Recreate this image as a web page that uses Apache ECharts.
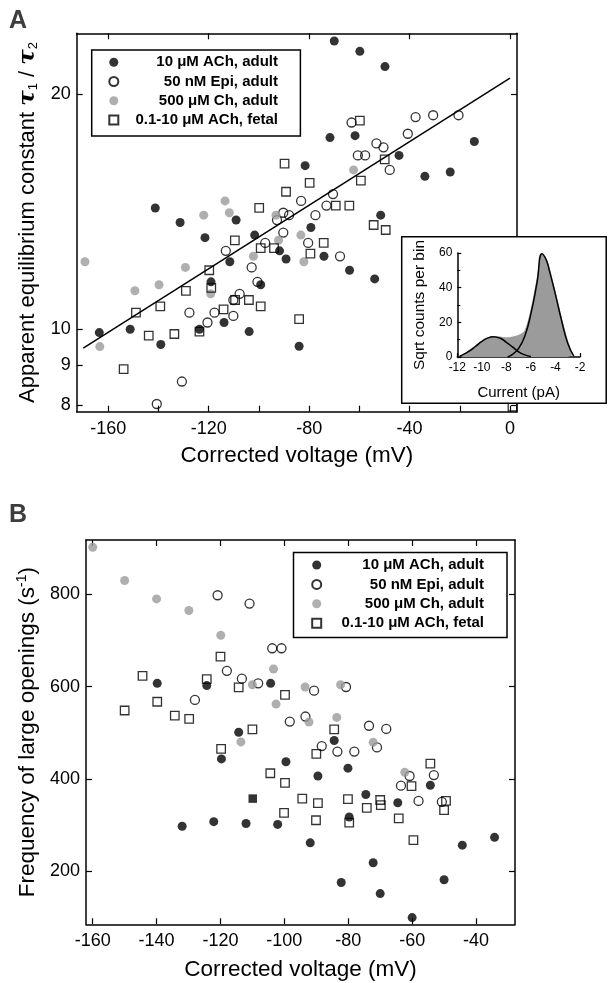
<!DOCTYPE html>
<html>
<head>
<meta charset="utf-8">
<script src="https://cdn.jsdelivr.net/npm/echarts@6/dist/echarts.min.js"></script>
<style>
  html, body { margin: 0; padding: 0; background: #fff; }
  #c { width: 609px; height: 983px; }
</style>
</head>
<body>
<div id="c"></div>
<script>
// ---- panel A : equilibrium constant vs corrected voltage (mV) ----
const achAdultA = [
  [-70.0, 23.4], [-59.8, 22.7], [-49.8, 21.7], [-71.7, 17.6], [-61.7, 17.7], [-14.2, 17.4],
  [-44.2, 16.7], [-33.9, 15.7], [-23.8, 15.9], [-81.6, 16.2], [-141.3, 14.3], [-131.4, 13.7],
  [-121.5, 13.1], [-109.1, 13.8], [-101.7, 13.2], [-79.3, 13.5], [-51.5, 14.0], [-111.6, 12.2],
  [-91.8, 12.6], [-89.2, 12.3], [-74.1, 12.4], [-63.9, 11.9], [-53.9, 11.6], [-119.1, 11.5],
  [-99.3, 11.4], [-163.6, 9.9], [-151.3, 10.0], [-139.1, 9.56], [-123.7, 10.0], [-113.9, 10.2],
  [-103.9, 9.93], [-84.0, 9.51]
];
const epiAdultA = [
  [-63.1, 18.4], [-37.6, 18.7], [-30.6, 18.8], [-20.5, 18.8], [-40.7, 17.8], [-53.2, 17.3],
  [-50.4, 17.1], [-60.6, 16.7], [-57.7, 16.7], [-47.9, 16.0], [-70.5, 14.9], [-83.2, 14.6],
  [-73.1, 14.4], [-77.5, 14.0], [-92.8, 13.8], [-90.3, 14.1], [-88.0, 14.0], [-90.3, 13.3],
  [-97.5, 12.9], [-80.4, 12.9], [-113.2, 12.6], [-102.9, 12.0], [-67.7, 12.4], [-100.6, 11.5],
  [-107.7, 11.1], [-110.2, 10.9], [-117.7, 10.5], [-120.5, 10.2], [-127.7, 10.5], [-110.2, 10.4],
  [-130.7, 8.57], [-140.7, 8.02]
];
const chAdultA = [
  [-62.3, 16.0], [-113.5, 14.6], [-122.0, 14.0], [-111.8, 14.1], [-93.2, 14.0], [-83.3, 13.2],
  [-102.2, 12.4], [-92.2, 13.0], [-129.3, 12.0], [-139.8, 11.4], [-149.4, 11.2], [-119.2, 11.1],
  [-163.4, 9.5], [-82.1, 12.2], [-169.3, 12.2]
];
const fetalA = [
  [-59.8, 18.5], [-49.9, 16.5], [-59.4, 15.5], [-89.8, 16.3], [-79.8, 15.4], [-89.2, 15.0],
  [-99.9, 14.3], [-69.4, 14.4], [-64.0, 14.4], [-54.3, 13.6], [-49.5, 13.4], [-109.6, 13.0],
  [-99.3, 12.7], [-94.0, 12.7], [-74.2, 12.9], [-79.5, 12.5], [-119.8, 11.9], [-119.0, 11.3],
  [-129.1, 11.2], [-149.0, 10.5], [-139.3, 10.7], [-114.1, 10.6], [-109.5, 10.9], [-104.0, 10.9],
  [-99.3, 10.7], [-143.9, 9.81], [-133.7, 9.86], [-123.7, 9.93], [-84.0, 10.3], [-153.9, 8.89],
  [1.0, 7.96]
];
const fitLineA = [[-170, 9.46], [0, 20.97]];
const xTicksA = [-160, -140, -120, -100, -80, -60, -40, -20, 0];
const xLabelsA = [-160, -120, -80, -40, 0];
const yTicksA = [8, 9, 10, 20];

// ---- inset : histogram of current (pA) ----
const histGray = [
  [-11.6, 0.5], [-11.0, 4], [-10.5, 6.5], [-10.0, 9], [-9.5, 11], [-9.0, 11.8], [-8.5, 11.5],
  [-8.0, 11], [-7.5, 11.5], [-7.0, 12.5], [-6.5, 15], [-6.0, 27], [-5.5, 45], [-5.1, 59.5],
  [-4.75, 56.5], [-4.5, 51], [-4.0, 37], [-3.5, 22], [-3.0, 9], [-2.6, 1]
];
const fitSmall = [
  [-11.8, 0.5], [-11.5, 1.5], [-11.0, 3.5], [-10.5, 6.2], [-10.0, 9], [-9.5, 11], [-9.1, 11.7],
  [-8.5, 10.8], [-8.0, 8.5], [-7.5, 5.8], [-7.0, 3], [-6.5, 1.2], [-6.0, 0.3]
];
const fitLarge = [
  [-7.9, 0], [-7.5, 1.5], [-7.0, 5], [-6.5, 12], [-6.0, 25], [-5.5, 43], [-5.1, 59.5],
  [-4.75, 56], [-4.5, 50], [-4.0, 36], [-3.5, 21], [-3.0, 8], [-2.5, 0.5]
];

// ---- panel B : frequency of large openings (s^-1) vs corrected voltage ----
const achAdultB = [
  [-139.8, 607], [-124.3, 602], [-104.3, 607], [-114.3, 501], [-119.7, 443], [-99.5, 437],
  [-89.5, 406], [-132.0, 297], [-122.1, 307], [-112.0, 303], [-102.1, 301], [-91.9, 261],
  [-84.4, 483], [-80.1, 423], [-79.7, 317], [-74.5, 366], [-64.5, 348], [-72.2, 218],
  [-54.3, 386], [-44.3, 256], [-34.2, 273], [-82.2, 175], [-70.0, 151], [-60.0, 99], [-50.0, 181]
];
const epiAdultB = [
  [-120.9, 798], [-110.9, 780], [-103.8, 683], [-100.9, 683], [-118.0, 634], [-113.3, 617],
  [-108.2, 607], [-90.7, 591], [-80.7, 599], [-128.0, 571], [-93.4, 535], [-98.3, 524],
  [-88.3, 471], [-83.4, 459], [-78.1, 459], [-73.5, 515], [-71.0, 468], [-68.1, 508],
  [-60.8, 406], [-63.5, 385], [-58.0, 352], [-53.2, 408], [-50.7, 350]
];
const chAdultB = [
  [-160.0, 902], [-150.0, 830], [-140.0, 790], [-129.9, 765], [-119.9, 711], [-103.4, 638],
  [-110.0, 604], [-102.6, 562], [-93.5, 599], [-82.4, 604], [-92.3, 523], [-83.6, 533],
  [-113.6, 480], [-72.2, 479], [-62.3, 414]
];
const fetalB = [
  [-120.0, 665], [-144.4, 623], [-124.3, 616], [-114.3, 598], [-99.8, 582], [-150.0, 548],
  [-139.8, 567], [-134.3, 537], [-129.8, 530], [-110.0, 507], [-119.8, 465], [-104.4, 412],
  [-99.8, 391], [-94.4, 357], [-89.5, 347], [-100.1, 326], [-90.1, 310], [-84.4, 507],
  [-90.0, 454], [-80.1, 356], [-79.7, 305], [-74.2, 337], [-70.0, 354], [-69.8, 343],
  [-64.2, 314], [-60.2, 384], [-59.6, 267], [-54.3, 433], [-49.4, 352], [-50.0, 332]
];
const filledSquareB = [[-109.9, 357]];
const xTicksB = [-160, -140, -120, -100, -80, -60, -40];
const yTicksB = [200, 400, 600, 800];

const seriesNames = ['10 \u03bcM ACh, adult', '50 nM Epi, adult', '500 \u03bcM Ch, adult', '0.1-10 \u03bcM ACh, fetal'];

const FONT = '"Liberation Sans", Arial, Helvetica, sans-serif';
const GRAY = '#9b9b9b';

function frameAxis(extra) {
  return Object.assign({
    axisLine: { show: true, onZero: false, lineStyle: { color: '#000', width: 1.5 } },
    splitLine: { show: false },
    axisLabel: { show: false },
    axisTick: { show: true, inside: true, length: 6, lineStyle: { color: '#000', width: 1.2 } }
  }, extra);
}

function styles(i) {
  return [
    { symbol: 'circle', symbolSize: 9, itemStyle: { color: '#000' } },
    { symbol: 'circle', symbolSize: 9, itemStyle: { color: 'rgba(0,0,0,0)', borderColor: '#000', borderWidth: 1.3 } },
    { symbol: 'circle', symbolSize: 9, itemStyle: { color: GRAY } },
    { symbol: 'rect', symbolSize: 8.5, itemStyle: { color: 'rgba(0,0,0,0)', borderColor: '#000', borderWidth: 1.3 } }
  ][i];
}

function scatter(i, data, xi, yi) {
  return Object.assign({
    type: 'scatter', name: seriesNames[i], data: data,
    xAxisIndex: xi, yAxisIndex: yi, silent: true
  }, styles(i));
}

function legendBox(left, top, width, padding, gap) {
  return {
    orient: 'vertical', left: left, top: top, data: seriesNames,
    itemWidth: 9, itemHeight: 9, itemGap: gap, padding: padding,
    borderColor: '#000', borderWidth: 1.5, backgroundColor: '#fff',
    selectedMode: false,
    formatter: n => '{a|' + n + '}',
    textStyle: {
      rich: { a: { width: width, align: 'right', fontSize: 15, fontWeight: 'bold', fontFamily: FONT, color: '#000', lineHeight: 15 } }
    }
  };
}

const chart = echarts.init(document.getElementById('c'), null, { renderer: 'canvas' });

chart.setOption({
  animation: false,
  textStyle: { fontFamily: FONT, color: '#000' },
  title: [
    { text: 'A', left: 9, top: 9, padding: 0, textStyle: { fontSize: 25, fontWeight: 'bold', fontFamily: FONT } },
    { text: 'B', left: 9, top: 503, padding: 0, textStyle: { fontSize: 25, fontWeight: 'bold', fontFamily: FONT } }
  ],
  legend: [
    legendBox(91.7, 50, 154.7, [4.8, 22.4, 8.5, 16.6], 4.2),
    legendBox(293.5, 552.5, 157.8, [5, 23, 6.9, 17.7], 4.4)
  ],
  grid: [
    { left: 76.7, top: 33.3, width: 440.3, height: 378.4 },
    { left: 401.7, top: 236.7, width: 204.5, height: 166.6, show: true, borderColor: '#000', borderWidth: 1.5, backgroundColor: '#fff', z: 3 },
    { left: 457.3, top: 253, width: 122.7, height: 104 },
    { left: 86, top: 540, width: 429, height: 384.3 }
  ],
  xAxis: [
    frameAxis({
      type: 'value', gridIndex: 0, min: -172.6, max: 2.8, position: 'bottom',
      name: 'Corrected voltage (mV)', nameLocation: 'middle', nameGap: 33,
      nameTextStyle: { fontSize: 22.5, fontFamily: FONT, color: '#000' },
      axisTick: { show: true, inside: true, length: 6, customValues: xTicksA, lineStyle: { color: '#000', width: 1.2 } },
      axisLabel: { show: true, customValues: xLabelsA, fontSize: 18, color: '#000', margin: 8, fontFamily: FONT }
    }),
    frameAxis({
      type: 'value', gridIndex: 0, min: -172.6, max: 2.8, position: 'top',
      axisTick: { show: true, inside: true, length: 6, customValues: xLabelsA, lineStyle: { color: '#000', width: 1.2 } }
    }),
    frameAxis({
      type: 'value', gridIndex: 2, min: -12, max: -2, interval: 2, position: 'bottom', z: 4,
      name: 'Current (pA)', nameLocation: 'middle', nameGap: 28,
      nameTextStyle: { fontSize: 15, fontFamily: FONT, color: '#000' },
      axisTick: { show: true, inside: true, length: 4, lineStyle: { color: '#000', width: 1.2 } },
      axisLabel: { show: true, fontSize: 12, color: '#000', margin: 5, fontFamily: FONT }
    }),
    frameAxis({
      type: 'value', gridIndex: 3, min: -162.1, max: -27.8, position: 'bottom',
      name: 'Corrected voltage (mV)', nameLocation: 'middle', nameGap: 34,
      nameTextStyle: { fontSize: 22.5, fontFamily: FONT, color: '#000' },
      axisTick: { show: true, inside: true, length: 6, customValues: xTicksB, lineStyle: { color: '#000', width: 1.2 } },
      axisLabel: { show: true, customValues: xTicksB, fontSize: 18, color: '#000', margin: 8, fontFamily: FONT }
    }),
    frameAxis({
      type: 'value', gridIndex: 3, min: -162.1, max: -27.8, position: 'top',
      axisTick: { show: true, inside: true, length: 6, customValues: xTicksB, lineStyle: { color: '#000', width: 1.2 } }
    })
  ],
  yAxis: [
    frameAxis({
      type: 'log', logBase: 10, gridIndex: 0, min: 7.84, max: 23.94, position: 'left',
      name: 'Apparent equilibrium constant {t|\u03c4}{s|1}{n| / }{t|\u03c4}{s|2}',
      nameLocation: 'middle', nameGap: 35,
      nameTextStyle: {
        fontSize: 22, fontFamily: FONT, color: '#000',
        rich: {
          t: { fontSize: 23, fontWeight: 'bold', fontStyle: 'italic', fontFamily: '"DejaVu Serif", serif', color: '#000' },
          s: { fontSize: 13, fontFamily: FONT, color: '#000', padding: [10, 0, 0, 0] },
          n: { fontSize: 22, fontFamily: FONT, color: '#000' }
        }
      },
      axisTick: { show: true, inside: true, length: 6, customValues: yTicksA, lineStyle: { color: '#000', width: 1.2 } },
      axisLabel: { show: true, customValues: yTicksA, fontSize: 18, color: '#000', margin: 6, fontFamily: FONT }
    }),
    frameAxis({
      type: 'log', logBase: 10, gridIndex: 0, min: 7.84, max: 23.94, position: 'right',
      axisTick: { show: true, inside: true, length: 6, customValues: yTicksA, lineStyle: { color: '#000', width: 1.2 } }
    }),
    frameAxis({
      type: 'value', gridIndex: 2, min: 0, max: 60, interval: 20, position: 'left', z: 4,
      name: 'Sqrt counts per bin', nameLocation: 'middle', nameGap: 30,
      nameTextStyle: { fontSize: 15.5, fontFamily: FONT, color: '#000' },
      axisTick: { show: true, inside: true, length: 4, lineStyle: { color: '#000', width: 1.2 } },
      minorTick: { show: true, splitNumber: 2, length: 3, lineStyle: { color: '#000', width: 1 } },
      axisLabel: { show: true, fontSize: 12, color: '#000', margin: 5, fontFamily: FONT }
    }),
    frameAxis({
      type: 'value', gridIndex: 3, min: 84.4, max: 917.8, position: 'left',
      name: 'Frequency of large openings (s{sup|-1})',
      nameLocation: 'middle', nameGap: 45,
      nameTextStyle: {
        fontSize: 22.5, fontFamily: FONT, color: '#000',
        rich: { sup: { fontSize: 14, fontFamily: FONT, color: '#000', padding: [0, 0, 10, 0] } }
      },
      axisTick: { show: true, inside: true, length: 6, customValues: yTicksB, lineStyle: { color: '#000', width: 1.2 } },
      axisLabel: { show: true, customValues: yTicksB, fontSize: 18, color: '#000', margin: 6, fontFamily: FONT }
    }),
    frameAxis({
      type: 'value', gridIndex: 3, min: 84.4, max: 917.8, position: 'right',
      axisTick: { show: true, inside: true, length: 6, customValues: yTicksB, lineStyle: { color: '#000', width: 1.2 } }
    })
  ],
  series: [
    scatter(0, achAdultA, 0, 0),
    scatter(1, epiAdultA, 0, 0),
    scatter(2, chAdultA, 0, 0),
    scatter(3, fetalA, 0, 0),
    { type: 'line', name: 'fit', data: fitLineA, xAxisIndex: 0, yAxisIndex: 0, symbol: 'none', silent: true, lineStyle: { color: '#000', width: 1.5 }, z: 3 },

    { type: 'line', name: 'hist', data: histGray, xAxisIndex: 2, yAxisIndex: 2, symbol: 'none', smooth: 0.3, silent: true, z: 5,
      lineStyle: { color: GRAY, width: 1 }, areaStyle: { color: GRAY, opacity: 1 } },
    { type: 'line', name: 'g1', data: fitSmall, xAxisIndex: 2, yAxisIndex: 2, symbol: 'none', smooth: true, silent: true, z: 6, lineStyle: { color: '#000', width: 1.5 } },
    { type: 'line', name: 'g2', data: fitLarge, xAxisIndex: 2, yAxisIndex: 2, symbol: 'none', smooth: true, silent: true, z: 6, lineStyle: { color: '#000', width: 1.5 } },

    scatter(0, achAdultB, 3, 3),
    scatter(1, epiAdultB, 3, 3),
    scatter(2, chAdultB, 3, 3),
    scatter(3, fetalB, 3, 3),
    { type: 'scatter', name: 'filled', data: filledSquareB, xAxisIndex: 3, yAxisIndex: 3, symbol: 'rect', symbolSize: 8.5, silent: true, itemStyle: { color: '#000' } }
  ]
});
</script>
</body>
</html>
